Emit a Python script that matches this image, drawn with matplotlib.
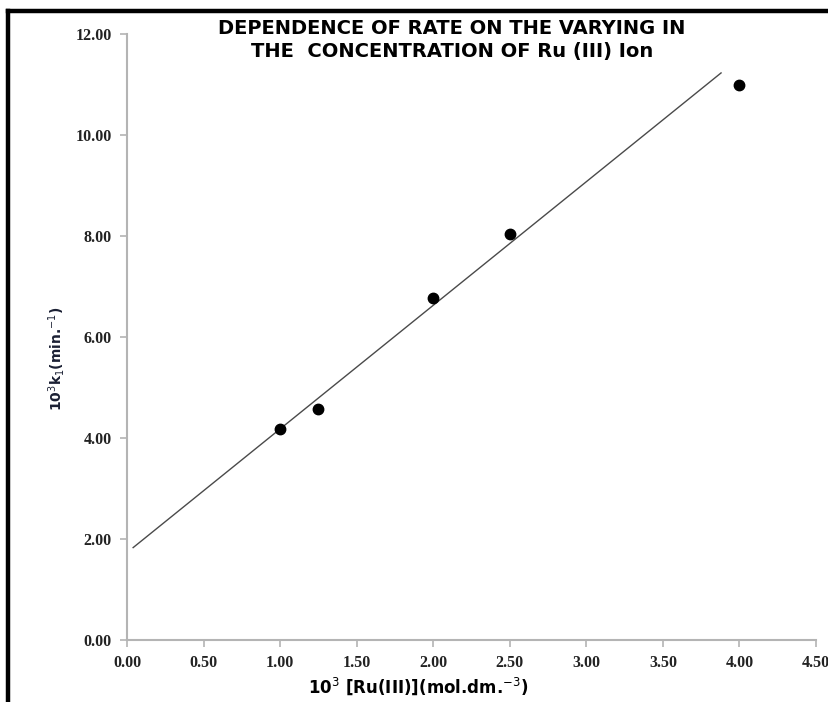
import matplotlib.pyplot as plt

# Data
ru_conc = [1.00, 1.25, 2.00, 2.50, 4.00]
rate_k1 = [4.18, 4.58, 6.78, 8.05, 11.00]

# hand-drawn best fit line (end points)
fit_x = [0.04, 3.88]
fit_y = [1.83, 11.23]

x_ticks = [0.0, 0.5, 1.0, 1.5, 2.0, 2.5, 3.0, 3.5, 4.0, 4.5]
y_ticks = [0.0, 2.0, 4.0, 6.0, 8.0, 10.0, 12.0]

AXIS_GREY = '#b4b4b4'
NARROW = ['DejaVu Sans Condensed', 'DejaVu Sans']

fig = plt.figure(figsize=(8.29, 7.02), dpi=100)
ax = fig.add_axes([0.1532, 0.0883, 0.8311, 0.8632])

ax.plot(fit_x, fit_y, color='#4a4a4a', linewidth=1.0)
ax.plot(ru_conc, rate_k1, 'o', color='black', markersize=7.5)

ax.set_xlim(0, 4.5)
ax.set_ylim(0, 12)
ax.set_xticks(x_ticks)
ax.set_yticks(y_ticks)
ax.set_xticklabels([f"{v:.2f}" for v in x_ticks])
ax.set_yticklabels([f"{v:.2f}" for v in y_ticks])

for side in ['top', 'right']:
    ax.spines[side].set_visible(False)
for side in ['left', 'bottom']:
    ax.spines[side].set_color(AXIS_GREY)
    ax.spines[side].set_linewidth(1.5)

ax.tick_params(axis='both', direction='out', length=5, width=1.2, color=AXIS_GREY,
               labelsize=11.5, pad=6)
for lbl in ax.get_xticklabels() + ax.get_yticklabels():
    lbl.set_fontfamily('Liberation Serif')
    lbl.set_fontweight('bold')
    lbl.set_color('#222222')

ax.set_xlabel(r"10$^3$ [Ru(III)](mol.dm.$^{-3}$)", fontsize=12, fontweight='bold',
              family=NARROW)
ax.xaxis.set_label_coords(0.422, -0.058)
ax.set_ylabel(r"10$^3$k$_1$(min.$^{-1}$)", fontsize=10, fontweight='bold',
              color='#1a1f33', family=NARROW)
ax.yaxis.set_label_coords(-0.087, 0.465)

fig.text(0.545, 0.960, "DEPENDENCE OF RATE ON THE VARYING IN",
         ha='center', va='center', fontsize=14, fontweight='bold', family=NARROW)
fig.text(0.545, 0.926, "THE  CONCENTRATION OF Ru (III) Ion",
         ha='center', va='center', fontsize=14, fontweight='bold', family=NARROW)

# black frame around the picture (open at right and bottom)
fig.add_artist(plt.Line2D([8/829, 8/829], [0, 1 - 11/702], color='black',
                          linewidth=3.2, transform=fig.transFigure))
fig.add_artist(plt.Line2D([8/829, 1], [1 - 11/702, 1 - 11/702], color='black',
                          linewidth=3.2, transform=fig.transFigure))

fig.savefig('out.png', dpi=100)
